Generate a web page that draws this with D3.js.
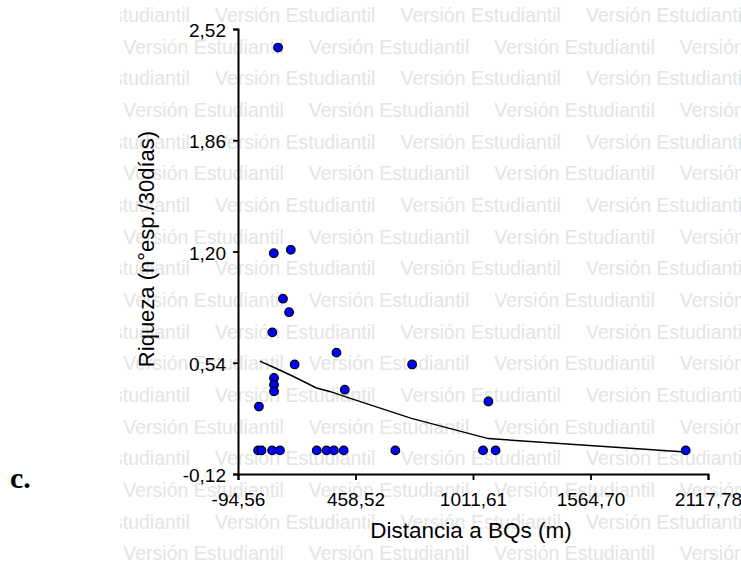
<!DOCTYPE html>
<html>
<head>
<meta charset="utf-8">
<script src="https://cdn.jsdelivr.net/npm/d3@7"></script>
<style>
  html, body { margin: 0; padding: 0; background: #fff; }
  svg { display: block; }
</style>
</head>
<body>
<svg id="chart" width="741" height="562"></svg>
<script>
// Observed richness versus distance to the nearest forest patch (BQs)
const distancia = [94, 74, 154, 117, 146, 67, 172, 369, 725, 75, 75, 75, 408, 4, 1084,
                   0, 16, 66, 103, 276, 322, 357, 403, 646, 1059, 1118, 2013];
const riqueza   = [2.41, 1.19, 1.21, 0.92, 0.84, 0.72, 0.53, 0.60, 0.53, 0.45, 0.41, 0.37, 0.38, 0.28, 0.31,
                   0.02, 0.02, 0.02, 0.02, 0.02, 0.02, 0.02, 0.02, 0.02, 0.02, 0.02, 0.02];

// Smoothed trend line vertices
const curvaX = [8, 78, 164, 275, 337, 431, 722, 1084, 2013];
const curvaY = [0.55, 0.51, 0.46, 0.39, 0.37, 0.33, 0.21, 0.09, 0.01];

// Axis ticks and their printed labels
const xTicks = [-94.56, 458.52, 1011.61, 1564.70, 2117.78];
const xTickLabels = ["-94,56", "458,52", "1011,61", "1564,70", "2117,78"];
const yTicks = [-0.12, 0.54, 1.20, 1.86, 2.52];
const yTickLabels = ["-0,12", "0,54", "1,20", "1,86", "2,52"];

const xTitle = "Distancia a BQs (m)";
const yTitle = "Riqueza (n°esp./30días)";
const panelLabel = "c.";
const marcaAgua = "Versión Estudiantil";

const svg = d3.select("#chart");
const W = 741, H = 562;
const sans = "'Liberation Sans', Arial, sans-serif";

// Background watermark, repeated in staggered rows
const wm = svg.append("g").attr("clip-path", "url(#wmclip)");
svg.append("clipPath").attr("id", "wmclip")
  .append("rect").attr("x", 120).attr("y", 0).attr("width", W - 120).attr("height", H);
const rowStep = 31.67, colStep = 185.5;
for (let k = 0; k < 18; k++) {
  const base = 22 + k * rowStep;
  const start = (k % 2 === 0) ? 29.5 : 123.3;
  for (let x0 = start; x0 < W; x0 += colStep) {
    wm.append("text")
      .attr("x", x0).attr("y", base)
      .attr("font-family", sans).attr("font-size", 19.5)
      .attr("fill", "#e4e4e4")
      .text(marcaAgua);
  }
}

// Scales
const x = d3.scaleLinear().domain([xTicks[0], xTicks[xTicks.length - 1]]).range([238, 708]);
const y = d3.scaleLinear().domain([yTicks[0], yTicks[yTicks.length - 1]]).range([474, 29]);

// Axes
const xAxis = d3.axisBottom(x).tickValues(xTicks)
  .tickFormat((d, i) => xTickLabels[i]).tickSizeOuter(0).tickSize(6).tickPadding(12.5);
const yAxis = d3.axisLeft(y).tickValues(yTicks)
  .tickFormat((d, i) => yTickLabels[i]).tickSizeOuter(0).tickSize(5).tickPadding(7);

const gx = svg.append("g").attr("transform", `translate(0,${y.range()[0]})`).call(xAxis);
const gy = svg.append("g").attr("transform", `translate(${x.range()[0]},0)`).call(yAxis);

[gx, gy].forEach(g => {
  g.select(".domain").attr("stroke", "#000").attr("stroke-width", 2);
  g.selectAll(".tick line").attr("stroke", "#000").attr("stroke-width", 1.8);
  g.selectAll(".tick text").attr("fill", "#000")
    .attr("font-family", sans).attr("font-size", 19);
});
gy.selectAll(".tick text").attr("dy", "0.4em");

// Trend line
const lineData = curvaX.map((d, i) => [d, curvaY[i]]);
svg.append("path")
  .datum(lineData)
  .attr("fill", "none")
  .attr("stroke", "#000")
  .attr("stroke-width", 1.5)
  .attr("d", d3.line().x(d => x(d[0])).y(d => y(d[1])));

// Points
const pts = distancia.map((d, i) => ({ d: d, r: riqueza[i] }));
svg.append("g").selectAll("circle")
  .data(pts).join("circle")
  .attr("cx", p => x(p.d))
  .attr("cy", p => y(p.r))
  .attr("r", 4.3)
  .attr("fill", "#0000ff")
  .attr("stroke", "#000")
  .attr("stroke-width", 1.2);

// Axis titles
svg.append("text")
  .attr("x", 471).attr("y", 538)
  .attr("text-anchor", "middle")
  .attr("font-family", sans).attr("font-size", 22.5)
  .attr("fill", "#000")
  .text(xTitle);

svg.append("text")
  .attr("transform", "translate(153.5,249) rotate(-90)")
  .attr("text-anchor", "middle")
  .attr("font-family", sans).attr("font-size", 22)
  .attr("fill", "#000")
  .text(yTitle);

// Panel letter
svg.append("text")
  .attr("x", 10).attr("y", 488)
  .attr("font-family", "'Liberation Serif', 'Times New Roman', serif")
  .attr("font-weight", "bold").attr("font-size", 30)
  .attr("fill", "#000")
  .text(panelLabel);
</script>
</body>
</html>
